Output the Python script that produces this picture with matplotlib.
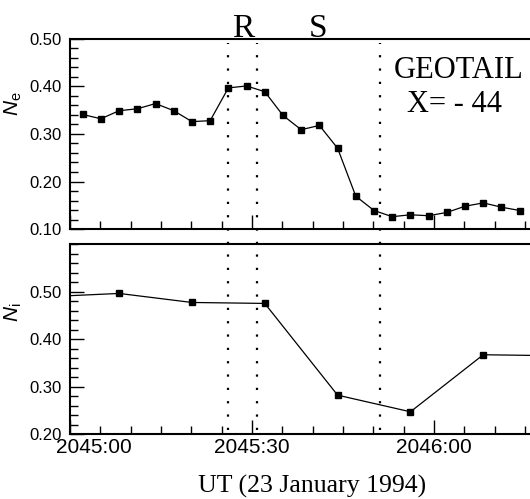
import matplotlib
matplotlib.use("Agg")
import matplotlib.pyplot as plt
import matplotlib.transforms as mtransforms
from matplotlib.ticker import MultipleLocator, FixedLocator

plt.rcParams['font.family'] = ['Liberation Sans', 'DejaVu Sans']
plt.rcParams['mathtext.fontset'] = 'custom'
plt.rcParams['mathtext.rm'] = 'Liberation Sans'
plt.rcParams['mathtext.it'] = 'Liberation Sans:italic'

# seconds after 2045:00 UT
t_e = [2.1, 5.1, 8.1, 11.1, 14.1, 17.1, 20.1, 23.1, 26.1, 29.1, 32.1, 35.1, 38.1,
       41.1, 44.1, 47.1, 50.1, 53.1, 56.1, 59.1, 62.1, 65.1, 68.1, 71.1, 74.1]
n_e = [0.341, 0.332, 0.349, 0.353, 0.364, 0.349, 0.326, 0.328, 0.397, 0.401, 0.389,
       0.339, 0.309, 0.318, 0.270, 0.169, 0.139, 0.126, 0.130, 0.128, 0.135, 0.148,
       0.155, 0.146, 0.139]

t_i = [-3.9, 8.1, 20.1, 32.1, 44.1, 56.1, 68.1, 80.1]
n_i = [0.489, 0.496, 0.477, 0.475, 0.282, 0.247, 0.367, 0.365]

boundaries = [26.0, 30.9, 51.1]
marks = [("R", 28.5), ("S", 40.9)]
tick_pos = [0, 30, 60]
tick_lab = ["2045:00", "2045:30", "2046:00"]

fig = plt.figure(figsize=(5.30, 4.99), dpi=100)
ax1 = fig.add_axes([0.132, 0.541, 0.868, 0.381])
ax2 = fig.add_axes([0.132, 0.130, 0.868, 0.381])

dots = (0, (1, 5))
for ax in (ax1, ax2):
    ax.set_xlim(0, 75.8)
    ax.spines['right'].set_visible(False)
    for s in ('left', 'top', 'bottom'):
        ax.spines[s].set_linewidth(1.5)
    ax.xaxis.set_major_locator(FixedLocator(tick_pos))
    ax.xaxis.set_minor_locator(MultipleLocator(5))
    ax.yaxis.set_major_locator(MultipleLocator(0.1))
    ax.yaxis.set_minor_locator(MultipleLocator(0.02))
    ax.tick_params(which='both', direction='in', top=False, right=False, width=1.0)
    ax.tick_params(which='major', length=10)
    ax.tick_params(which='minor', length=5.5)
    ax.tick_params(axis='y', labelsize=12, pad=6)

# top panel: electrons
ax1.plot(t_e, n_e, '-', color='black', lw=0.9, marker='s', ms=4.2, clip_on=True)
ax1.set_ylim(0.10, 0.50)
ax1.set_yticks([0.1, 0.2, 0.3, 0.4, 0.5])
ax1.set_yticklabels(["0.10", "0.20", "0.30", "0.40", "0.50"])
ax1.tick_params(axis='x', labelbottom=False)
ax1.set_ylabel(r'$N_\mathrm{e}$', fontsize=15)
ax1.yaxis.set_label_coords(-0.1, 0.66)
for b in boundaries:
    ax1.axvline(b, ymin=-0.08, ymax=0.98, color='black', lw=1.6, ls=dots, clip_on=False)
for lab, x in marks:
    ax1.text(x, 1.01, lab, transform=ax1.get_xaxis_transform(), ha='center', va='baseline',
             fontsize=24, family='Liberation Serif')
ax1.text(0.845, 0.833, "GEOTAIL", transform=ax1.transAxes, ha='center', va='center',
         fontsize=22, family='Liberation Serif')
ax1.text(0.835, 0.653, "X= - 44", transform=ax1.transAxes, ha='center', va='center',
         fontsize=22, family='Liberation Serif')

# bottom panel: ions
ax2.plot(t_i, n_i, '-', color='black', lw=0.9, marker='s', ms=4.2, clip_on=True)
ax2.set_ylim(0.20, 0.60)
ax2.set_yticks([0.2, 0.3, 0.4, 0.5])
ax2.set_yticklabels(["0.20", "0.30", "0.40", "0.50"])
ax2.set_xticklabels(tick_lab)
ax2.tick_params(axis='x', labelsize=15, pad=3)
ax2.set_ylabel(r'$N_\mathrm{i}$', fontsize=15)
ax2.yaxis.set_label_coords(-0.1, 0.64)
for b in boundaries:
    ax2.axvline(b, ymin=0.02, ymax=1.0, color='black', lw=1.6, ls=dots)
ax2.set_xlabel("UT (23 January 1994)", fontsize=18.5, family='Liberation Serif')
ax2.xaxis.set_label_coords(0.527, -0.215)

# first tick label sits to the right of the axis corner
lbl0 = ax2.get_xticklabels()[0]
lbl0.set_transform(lbl0.get_transform() + mtransforms.ScaledTranslation(0.24, 0, fig.dpi_scale_trans))

fig.savefig("out.png", dpi=100)
